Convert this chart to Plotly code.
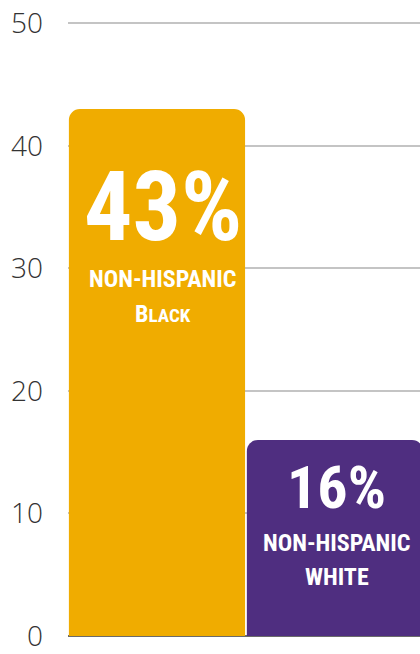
import plotly.graph_objects as go

# Share of each group, percent
groups = ["Non-Hispanic Black", "Non-Hispanic White"]
values = [43, 16]
line1 = ["NON-HISPANIC", "NON-HISPANIC"]
line2_first = ["B", "W"]
line2_rest = ["LACK", "HITE"]
line2_small = [True, False]
bar_colors = ["#F0AC00", "#4F2E80"]

tick_vals = [0, 10, 20, 30, 40, 50]

COND = "Roboto Condensed, Open Sans Condensed, sans-serif"

fig = go.Figure()
fig.add_trace(go.Bar(
    x=[0, 1],
    y=values,
    marker=dict(color=bar_colors, line=dict(width=0)),
    width=0.99,
    hoverinfo="skip",
))

# text placement inside each bar (data-unit heights and pixel shifts)
pct_y = [35.0, 12.1]
pct_size = [96, 60]
l1_y = [29.1, 7.6]
l2_y = [26.3, 4.8]
xshift = [6, 2]

annotations = []
for i, v in enumerate(values):
    annotations.append(dict(
        x=i, y=pct_y[i], xref="x", yref="y", xshift=xshift[i],
        text=f"<b>{v}%</b>", showarrow=False,
        font=dict(family=COND, size=pct_size[i], color="white"),
        xanchor="center", yanchor="middle",
    ))
    annotations.append(dict(
        x=i, y=l1_y[i], xref="x", yref="y", xshift=xshift[i],
        text=f"<b>{line1[i]}</b>", showarrow=False,
        font=dict(family=COND, size=24, color="white"),
        xanchor="center", yanchor="middle",
    ))
    if line2_small[i]:
        t2 = f"<b>{line2_first[i]}<span style='font-size:19px'>{line2_rest[i]}</span></b>"
    else:
        t2 = f"<b>{line2_first[i]}{line2_rest[i]}</b>"
    annotations.append(dict(
        x=i, y=l2_y[i], xref="x", yref="y", xshift=xshift[i],
        text=t2, showarrow=False,
        font=dict(family=COND, size=24, color="white"),
        xanchor="center", yanchor="middle",
    ))

fig.update_layout(
    width=420, height=654,
    margin=dict(l=68, r=0, t=22, b=15),
    paper_bgcolor="white", plot_bgcolor="white",
    showlegend=False,
    barcornerradius=11,
    annotations=annotations,
    xaxis=dict(
        range=[-0.5, 1.478], showticklabels=False, showgrid=False,
        zeroline=False, showline=False, fixedrange=True,
    ),
    yaxis=dict(
        range=[0, 50.1], tickvals=tick_vals,
        ticktext=[str(t) for t in tick_vals],
        showgrid=True, gridcolor="#C4C4C4", gridwidth=1.5,
        zeroline=True, zerolinecolor="#6B6B6B", zerolinewidth=2,
        showline=False, ticks="",
        ticklabelstandoff=24, ticklabeloverflow="allow",
        tickfont=dict(family="Open Sans, sans-serif", size=28, color="#333333", weight=300),
        fixedrange=True,
    ),
)

fig.write_html("out.html")
